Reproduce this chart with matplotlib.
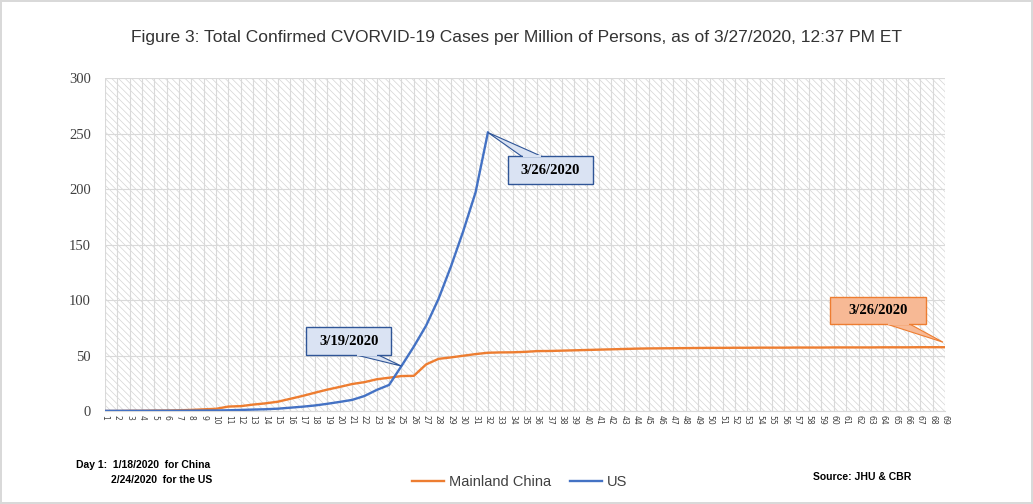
import numpy as np
import matplotlib
matplotlib.use("Agg")
import matplotlib.pyplot as plt
import matplotlib.transforms as mtransforms
from matplotlib.patches import Rectangle, Polygon

# Cases per million, day 1 = 1/18/2020 for China, 2/24/2020 for the US
days = list(range(1, 70))
china = [0.03, 0.04, 0.2, 0.23, 0.39, 0.45, 0.66, 1.0, 1.5, 2.0,
         4.0, 4.4, 5.8, 6.9, 8.4, 11.0, 13.6, 16.5, 19.3, 21.7,
         24.3, 26.0, 28.6, 30.0, 31.5, 31.7, 42.0, 47.0, 48.3, 49.8,
         51.3, 52.5, 52.8, 52.9, 53.3, 54.0, 54.1, 54.4, 54.7, 55.0,
         55.3, 55.6, 55.9, 56.2, 56.4, 56.5, 56.6, 56.7, 56.8, 56.9,
         56.9, 57.0, 57.0, 57.1, 57.1, 57.1, 57.2, 57.2, 57.2, 57.3,
         57.3, 57.3, 57.3, 57.4, 57.4, 57.4, 57.5, 57.5, 57.5]
us = [0.16, 0.16, 0.18, 0.18, 0.2, 0.21, 0.23, 0.31, 0.38, 0.48,
      0.67, 0.97, 1.3, 1.6, 2.1, 3.0, 3.9, 5.0, 6.5, 8.2,
      10.0, 13.5, 19.0, 23.5, 40.5, 58.0, 77.0, 101.0, 130.0, 162.0,
      197.0, 251.0]
yticks = [0, 50, 100, 150, 200, 250, 300]

title = ("Figure 3: Total Confirmed CVORVID-19 Cases per Million of Persons, "
         "as of 3/27/2020, 12:37 PM ET")

orange = "#ed7d31"
blue = "#4472c4"
grid_c = "#d9d9d9"
txt_c = "#404040"

plt.rcParams["hatch.linewidth"] = 0.5

fig = plt.figure(figsize=(10.33, 5.04), dpi=100)
fig.patch.set_edgecolor(grid_c)
fig.patch.set_linewidth(1.5)
ax = fig.add_axes([0.1016, 0.1845, 0.8132, 0.6605])

# hatched plot background
ax.add_patch(Rectangle((0, 0), 1, 1, transform=ax.transAxes, facecolor="white",
                       edgecolor="#d4d4d4", hatch="\\\\\\\\\\", linewidth=0, zorder=0))
ax.patch.set_visible(False)

ax.plot(days, china, color=orange, lw=1.7, label="Mainland China", zorder=3)
ax.plot(days[:len(us)], us, color=blue, lw=1.7, label="US", zorder=4)

ax.set_xlim(1, 69)
ax.set_ylim(0, 300)
ax.set_yticks(yticks)
ax.set_xticks(days)
ax.set_xticklabels([str(d) for d in days], rotation=-90, fontsize=5.5, color=txt_c)
ax.tick_params(axis="both", length=0)
ax.tick_params(axis="y", labelsize=10.5, labelcolor=txt_c, pad=10)
ax.tick_params(axis="x", pad=3)
for lab in ax.get_yticklabels():
    lab.set_family("Liberation Serif")
ax.grid(True, color=grid_c, lw=0.8, zorder=1)
ax.set_axisbelow(True)
for s in ["top", "right", "left"]:
    ax.spines[s].set_visible(False)
ax.spines["bottom"].set_color(grid_c)


# callout: box and pointer given in pixels relative to the anchored data point
def callout(x, y, text, box, base, tip, fc, ec):
    tr = fig.dpi_scale_trans + mtransforms.ScaledTranslation(x, y, ax.transData)
    x0, x1, y0, y1 = [v / 100 for v in box]
    bx0, bx1, by = [v / 100 for v in base]
    tx, ty = tip[0] / 100, tip[1] / 100
    ax.add_patch(Polygon([(bx0, by), (tx, ty), (bx1, by)], closed=True, transform=tr,
                         fc=fc, ec=ec, lw=0.8, zorder=6, clip_on=False))
    ax.add_patch(Rectangle((x0, y0), x1 - x0, y1 - y0, transform=tr,
                           fc=fc, ec=ec, lw=1, zorder=7, clip_on=False))
    ax.add_patch(Polygon([(bx0 + 0.01, by), (bx1 - 0.01, by)], closed=False, transform=tr,
                         fc="none", ec=fc, lw=1.5, zorder=7.5, clip_on=False))
    ax.text((x0 + x1) / 2, (y0 + y1) / 2, text, transform=tr, ha="center", va="center",
            fontsize=10.5, fontweight="bold", family="Liberation Serif", color="black",
            zorder=8)


callout(32, us[31], "3/26/2020", (20, 105, -52, -24), (34, 54, -24), (0, 0),
        "#dae3f3", "#2f5597")
callout(25, us[24], "3/19/2020", (-95, -10, 11, 39), (-45, -23, 11), (0, 0),
        "#dae3f3", "#2f5597")
callout(69, china[68], "3/26/2020", (-115, -19, 23, 50), (-58, -35, 23), (-2, 5),
        "#f7b995", orange)

fig.text(0.5, 0.925, title, ha="center", va="center", fontsize=12.5,
         family="Liberation Sans", color="#333333")

leg = fig.legend(loc="center", bbox_to_anchor=(0.503, 0.043), ncol=2, frameon=False,
                 prop={"family": "Liberation Sans", "size": 10.5}, handlelength=2.2,
                 columnspacing=1.3, handletextpad=0.3)
for t in leg.get_texts():
    t.set_color(txt_c)

fig.text(0.074, 0.078, "Day 1:  1/18/2020  for China", fontsize=7.5,
         family="Liberation Sans", fontweight="bold", va="center")
fig.text(0.1075, 0.047, "2/24/2020  for the US", fontsize=7.5,
         family="Liberation Sans", fontweight="bold", va="center")
fig.text(0.787, 0.054, "Source: JHU & CBR", fontsize=7.5,
         family="Liberation Sans", fontweight="bold", va="center")

fig.savefig("out.png", dpi=100)
